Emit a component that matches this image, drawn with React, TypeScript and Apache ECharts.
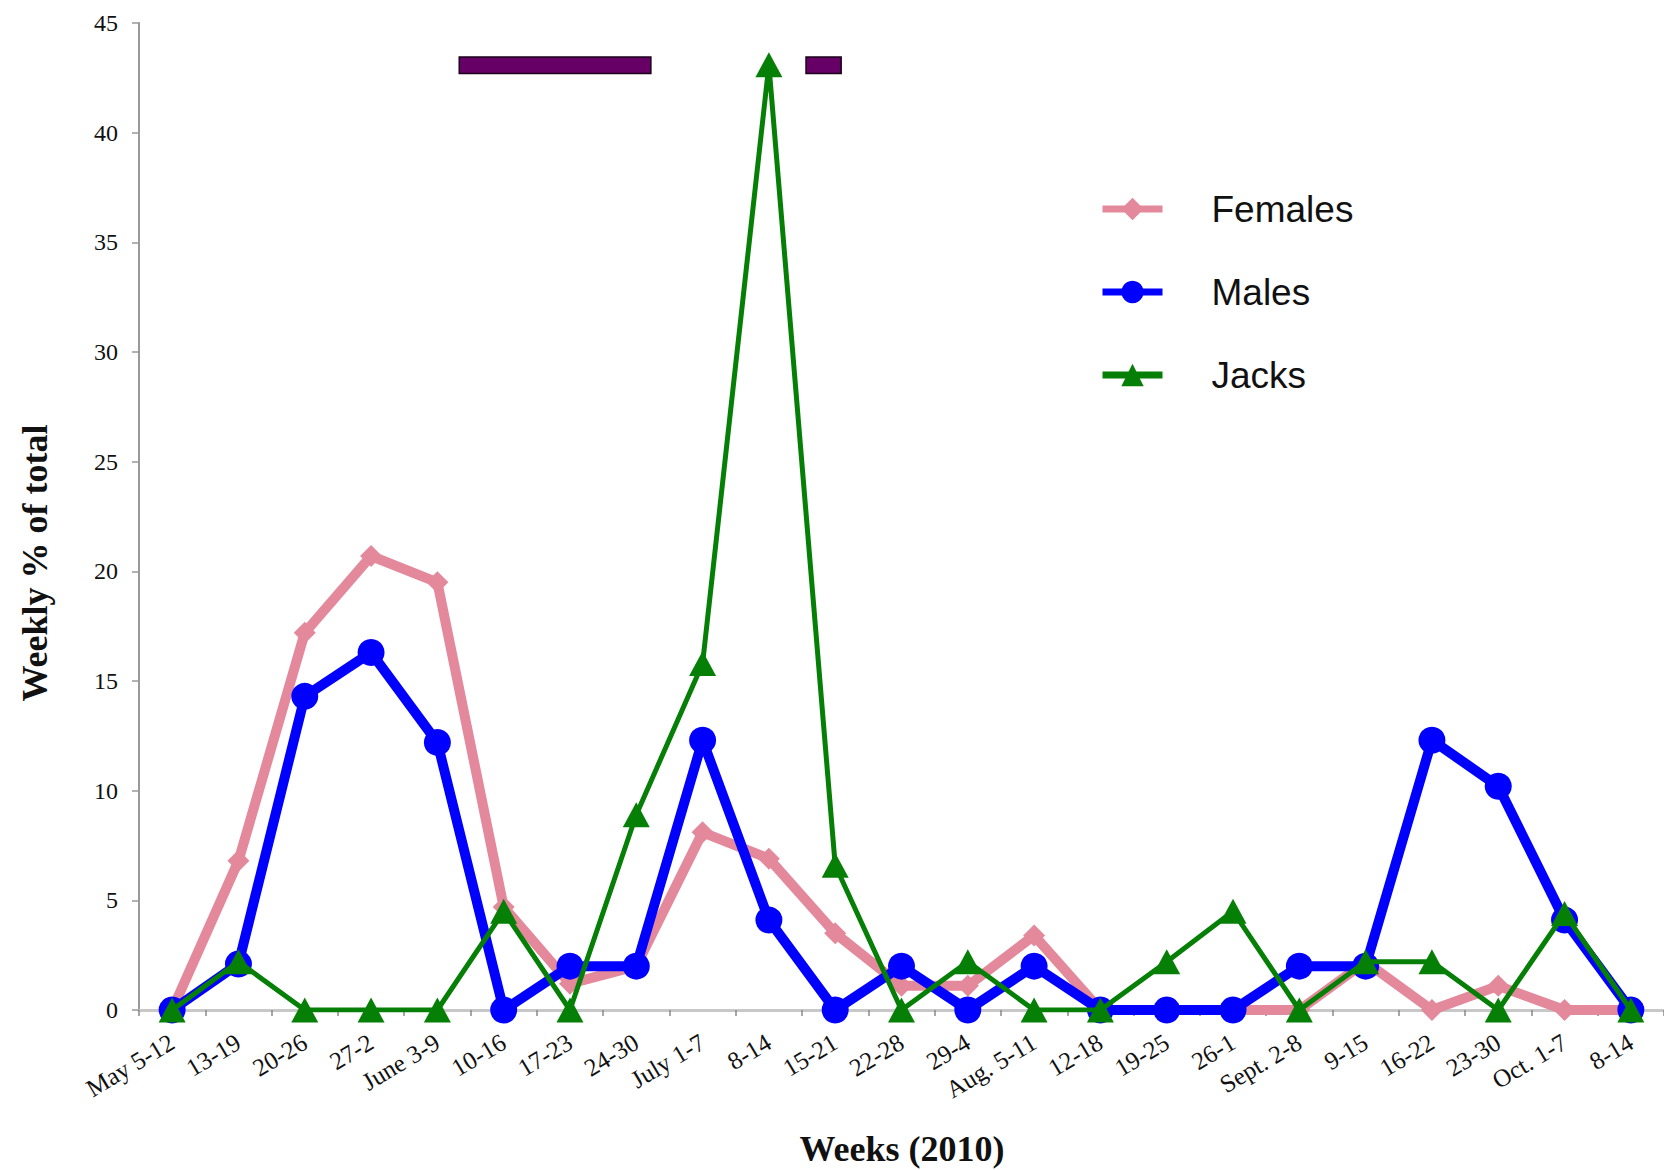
import React, { useEffect, useRef } from 'react';
import * as echarts from 'echarts';

const weeks = [
  'May 5-12', '13-19', '20-26', '27-2', 'June 3-9', '10-16', '17-23', '24-30',
  'July 1-7', '8-14', '15-21', '22-28', '29-4', 'Aug. 5-11', '12-18', '19-25',
  '26-1', 'Sept. 2-8', '9-15', '16-22', '23-30', 'Oct. 1-7', '8-14',
];
const females = [0, 6.8, 17.2, 20.7, 19.5, 4.7, 1.2, 2.0, 8.1, 6.9, 3.5, 1.1, 1.1, 3.4, 0, 0, 0, 0, 2.2, 0, 1.1, 0, 0];
const males = [0, 2.1, 14.3, 16.3, 12.2, 0, 2.0, 2.0, 12.3, 4.1, 0, 2.0, 0, 2.0, 0, 0, 0, 2.0, 2.0, 12.3, 10.2, 4.1, 0];
const jacks = [0, 2.2, 0, 0, 0, 4.5, 0, 8.9, 15.8, 43.1, 6.6, 0, 2.2, 0, 0, 2.2, 4.5, 0, 2.2, 2.2, 0, 4.4, 0];

// Period markers (in week-index units) drawn as bars near the top
const periodStart = [4.33, 9.56];
const periodEnd = [7.22, 10.09];
const periodLow = 42.7;
const periodHigh = 43.45;

const yMin = 0;
const yMax = 45;
const yStep = 5;

const PINK = '#E3899B';
const BLUE = '#0000FF';
const GREEN = '#067F06';

export default function App() {
  const ref = useRef<HTMLDivElement>(null);
  useEffect(() => {
    const chart = echarts.init(ref.current!, null, { renderer: 'svg' });
    chart.setOption({
      animation: false,
      backgroundColor: '#ffffff',
      grid: { left: 139, top: 23, right: 0, height: 987, outerBoundsMode: 'none', containLabel: false },
      legend: {
        data: ['Females', 'Males', 'Jacks'],
        orient: 'vertical',
        left: 1094,
        top: 184,
        itemWidth: 60,
        itemHeight: 28,
        itemGap: 43,
        lineStyle: { width: 7 },
        textStyle: {
          fontFamily: 'Liberation Sans',
          fontSize: 37,
          color: '#111',
          lineHeight: 40,
          padding: [0, 0, 0, 44],
        },
      },
      xAxis: [
        {
          type: 'category',
          data: weeks,
          boundaryGap: true,
          axisLine: { onZero: false, lineStyle: { color: '#c8c8c8', width: 3 } },
          axisTick: { show: true, length: 6, lineStyle: { color: '#888', width: 1.5 } },
          axisLabel: {
            rotate: 31,
            interval: 0,
            fontFamily: 'Liberation Serif',
            fontSize: 25,
            color: '#111',
            margin: 30,
          },
          splitLine: { show: false },
        },
        {
          type: 'value',
          min: -0.5,
          max: weeks.length - 0.5,
          show: false,
          position: 'bottom',
          axisLine: { onZero: false },
        },
      ],
      yAxis: {
        type: 'value',
        min: yMin,
        max: yMax,
        interval: yStep,
        splitLine: { show: false },
        axisLine: { show: true, onZero: false, lineStyle: { color: '#999', width: 2 } },
        axisTick: { show: true, length: 7, lineStyle: { color: '#999', width: 1.5 } },
        axisLabel: { fontFamily: 'Liberation Serif', fontSize: 24, color: '#111', margin: 21 },
      },
      graphic: [
        {
          type: 'text',
          x: 902,
          y: 1149,
          style: {
            text: 'Weeks (2010)',
            fontFamily: 'Liberation Serif',
            fontWeight: 'bold',
            fontSize: 36,
            fill: '#111',
            align: 'center',
            verticalAlign: 'middle',
            textAlign: 'center',
            textVerticalAlign: 'middle',
          },
        },
        {
          type: 'text',
          x: 35,
          y: 563,
          rotation: Math.PI / 2,
          style: {
            text: 'Weekly % of total',
            fontFamily: 'Liberation Serif',
            fontWeight: 'bold',
            fontSize: 36,
            fill: '#111',
            align: 'center',
            verticalAlign: 'middle',
            textAlign: 'center',
            textVerticalAlign: 'middle',
          },
        },
      ],
      series: [
        {
          name: 'Females',
          type: 'line',
          data: females,
          symbol: 'diamond',
          symbolSize: 22,
          lineStyle: { color: PINK, width: 10 },
          itemStyle: { color: PINK },
          z: 2,
        },
        {
          name: 'Males',
          type: 'line',
          data: males,
          symbol: 'circle',
          symbolSize: 27,
          lineStyle: { color: BLUE, width: 10 },
          itemStyle: { color: BLUE },
          z: 3,
        },
        {
          name: 'Jacks',
          type: 'line',
          data: jacks,
          symbol: 'triangle',
          symbolSize: [27, 25],
          lineStyle: { color: GREEN, width: 5 },
          itemStyle: { color: GREEN },
          z: 4,
        },
        {
          type: 'custom',
          xAxisIndex: 1,
          yAxisIndex: 0,
          data: periodStart.map((s, i) => [s, periodEnd[i], periodLow, periodHigh]),
          encode: { x: [0, 1], y: [2, 3] },
          renderItem: (params: any, api: any) => {
            const p0 = api.coord([api.value(0), api.value(3)]);
            const p1 = api.coord([api.value(1), api.value(2)]);
            return {
              type: 'rect',
              shape: { x: p0[0], y: p0[1], width: p1[0] - p0[0], height: p1[1] - p0[1] },
              style: { fill: '#660066', stroke: '#1a001a', lineWidth: 1.5 },
            };
          },
          z: 5,
        },
      ],
    });
    return () => chart.dispose();
  }, []);
  return (
    <div
      ref={ref}
      style={{ position: 'absolute', left: 0, top: 0, width: 1664, height: 1170, background: '#fff' }}
    />
  );
}
